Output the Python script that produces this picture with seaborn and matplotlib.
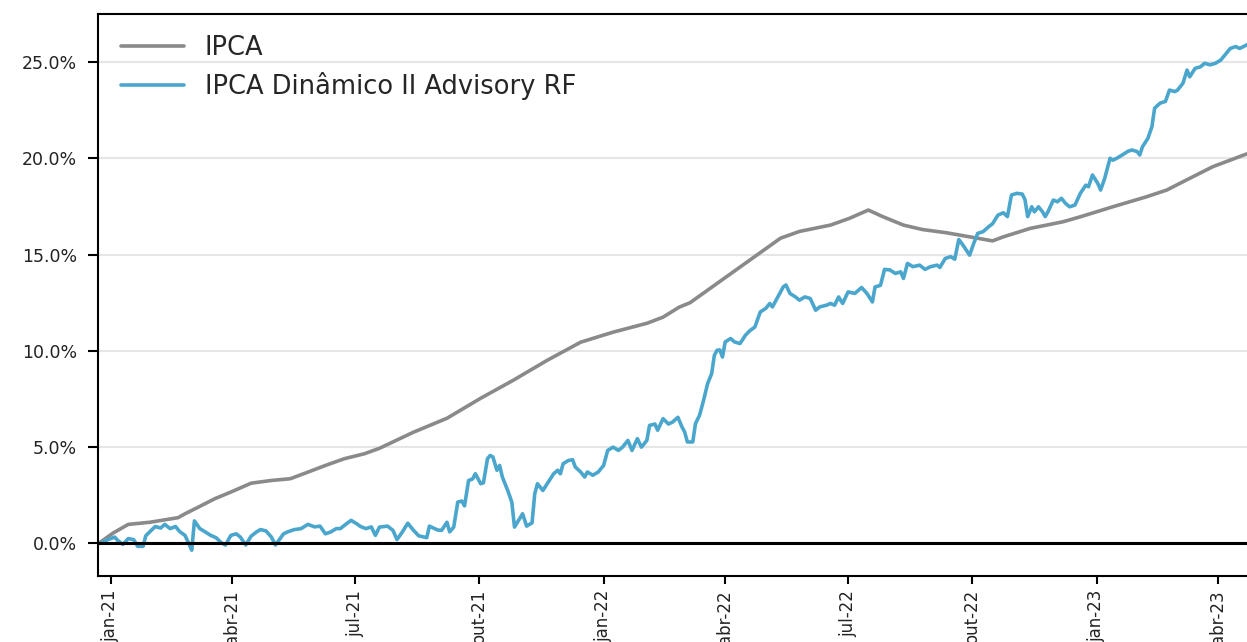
import matplotlib
matplotlib.use("Agg")
import matplotlib.pyplot as plt
import matplotlib.dates as mdates
from matplotlib.ticker import FuncFormatter
import seaborn as sns
import pandas as pd

# ---------------- data (days since 2021-01-01, cumulative return in %) ----------------
start_date = "2021-01-01"

ipca_days = [-8, 2, 13, 29, 50, 55, 65, 77, 89, 104, 119, 133, 144, 159, 173, 188, 199,
             224, 249, 274, 298, 323, 348, 372, 397, 409, 421, 429, 449, 473, 481, 496,
             510, 533, 547, 561, 572, 587, 601, 619, 636, 653, 661, 681, 705, 718, 742,
             767, 782, 794, 816, 841, 845]
ipca_values = [0.05, 0.55, 0.99, 1.10, 1.34, 1.54, 1.89, 2.32, 2.67, 3.13, 3.27, 3.36, 3.65,
               4.05, 4.40, 4.66, 4.94, 5.77, 6.50, 7.54, 8.47, 9.50, 10.45, 10.97, 11.43,
               11.75, 12.27, 12.50, 13.50, 14.70, 15.10, 15.85, 16.20, 16.53, 16.88, 17.31,
               16.96, 16.53, 16.30, 16.13, 15.92, 15.71, 15.92, 16.36, 16.70, 16.96, 17.48,
               18.00, 18.35, 18.78, 19.56, 20.22, 20.30]

fund_days = [-8, -2, 3, 5, 9, 13, 17, 20, 24, 26, 30, 33, 37, 40, 44, 48, 51, 55, 59, 60,
             62, 66, 70, 74, 78, 82, 85, 89, 93, 96, 100, 104, 108, 111, 115, 119, 122, 128,
             131, 136, 141, 146, 151, 155, 159, 163, 167, 170, 174, 178, 182, 185, 189, 193,
             196, 199, 205, 209, 212, 216, 220, 224, 228, 231, 234, 236, 242, 245, 249, 251,
             254, 257, 260, 262, 265, 268, 270, 274, 276, 279, 281, 283, 286, 288, 290, 294,
             297, 299, 302, 305, 308, 312, 314, 316, 320, 324, 328, 331, 333, 335, 339, 342,
             344, 348, 351, 353, 357, 361, 365, 368, 372, 376, 379, 383, 386, 390, 393, 397,
             399, 403, 405, 409, 413, 416, 420, 423, 425, 427, 431, 433, 436, 439, 442, 445,
             447, 449, 451, 453, 455, 459, 462, 466, 470, 473, 477, 481, 485, 488, 490, 494,
             498, 500, 503, 507, 510, 514, 518, 522, 525, 530, 533, 536, 539, 542, 546, 551,
             556, 560, 564, 566, 570, 573, 577, 581, 585, 587, 590, 594, 599, 603, 607, 612,
             614, 618, 622, 625, 628, 631, 636, 639, 642, 646, 650, 653, 657, 661, 664, 667,
             671, 675, 677, 679, 682, 684, 687, 690, 692, 694, 698, 701, 704, 707, 710, 714,
             718, 722, 724, 727, 731, 733, 736, 740, 742, 745, 749, 753, 756, 760, 762, 764,
             768, 771, 773, 777, 781, 784, 788, 790, 794, 797, 799, 803, 807, 810, 814, 818,
             822, 825, 829, 833, 836, 841, 845]
fund_values = [0.00, 0.20, 0.33, 0.17, -0.05, 0.25, 0.20, -0.15, -0.15, 0.40, 0.68, 0.88,
               0.80, 0.99, 0.77, 0.88, 0.62, 0.42, -0.18, -0.35, 1.17, 0.77, 0.60, 0.42,
               0.30, 0.03, -0.08, 0.42, 0.50, 0.33, -0.08, 0.38, 0.60, 0.72, 0.65, 0.33,
               -0.08, 0.50, 0.60, 0.72, 0.77, 0.99, 0.86, 0.90, 0.50, 0.60, 0.77, 0.77, 0.99,
               1.20, 1.03, 0.88, 0.77, 0.86, 0.42, 0.85, 0.90, 0.68, 0.20, 0.60, 1.05, 0.70,
               0.40, 0.35, 0.30, 0.90, 0.70, 0.68, 1.10, 0.60, 0.85, 2.15, 2.20, 1.95, 3.27,
               3.35, 3.62, 3.10, 3.15, 4.40, 4.57, 4.49, 3.80, 4.05, 3.45, 2.75, 2.15, 0.85,
               1.20, 1.54, 0.90, 1.07, 2.58, 3.10, 2.75, 3.19, 3.62, 3.80, 3.62, 4.14, 4.31,
               4.35, 3.97, 3.71, 3.45, 3.71, 3.54, 3.71, 4.05, 4.83, 5.00, 4.83, 5.00, 5.35,
               4.83, 5.44, 5.00, 5.35, 6.13, 6.20, 5.88, 6.48, 6.20, 6.30, 6.55, 6.05, 5.79,
               5.27, 5.27, 6.22, 6.65, 7.43, 8.30, 8.82, 9.77, 10.03, 10.05, 9.68, 10.46,
               10.64, 10.46, 10.38, 10.81, 11.03, 11.24, 12.02, 12.20, 12.46, 12.28, 12.80,
               13.32, 13.42, 12.98, 12.80, 12.63, 12.80, 12.72, 12.11, 12.28, 12.37, 12.46,
               12.37, 12.80, 12.46, 13.06, 12.98, 13.29, 12.98, 12.54, 13.32, 13.40, 14.23,
               14.20, 14.02, 14.10, 13.76, 14.54, 14.37, 14.45, 14.23, 14.37, 14.45, 14.33,
               14.80, 14.89, 14.76, 15.78, 15.50, 14.97, 15.57, 16.10, 16.19, 16.44, 16.60,
               17.05, 17.17, 16.97, 18.09, 18.18, 18.14, 17.85, 16.97, 17.48, 17.22, 17.48,
               17.22, 16.97, 17.22, 17.83, 17.74, 17.92, 17.66, 17.48, 17.57, 18.18, 18.60,
               18.52, 19.13, 18.68, 18.35, 18.95, 20.00, 19.90, 20.00, 20.17, 20.35, 20.43,
               20.35, 20.17, 20.60, 21.03, 21.64, 22.60, 22.86, 22.95, 23.54, 23.46, 23.54,
               23.90, 24.58, 24.23, 24.67, 24.75, 24.93, 24.85, 24.93, 25.10, 25.36, 25.70,
               25.80, 25.70, 25.88, 26.00]

series_names = ["IPCA", "IPCA Dinâmico II Advisory RF"]
y_ticks = [0, 5, 10, 15, 20, 25]
month_names_pt = {1: "jan", 4: "abr", 7: "jul", 10: "out"}

# ---------------- build frames ----------------
base = pd.Timestamp(start_date)
ipca_df = pd.DataFrame({"date": base + pd.to_timedelta(ipca_days, unit="D"),
                        "value": ipca_values})
fund_df = pd.DataFrame({"date": base + pd.to_timedelta(fund_days, unit="D"),
                        "value": fund_values})

# ---------------- figure ----------------
sns.set_theme(style="white")
plt.rcParams["font.family"] = ["DejaVu Sans"]

W, H = 1247, 642
fig = plt.figure(figsize=(W / 100, H / 100), dpi=100)
ax = fig.add_axes([98 / W, (H - 576) / H, 1 - 98 / W, (576 - 14) / H])

sns.lineplot(data=ipca_df, x="date", y="value", ax=ax, color="#8a8a8a",
             linewidth=2.6, label=series_names[0])
sns.lineplot(data=fund_df, x="date", y="value", ax=ax, color="#4aa6cc",
             linewidth=2.6, label=series_names[1])
ax.axhline(0, color="black", linewidth=2.2, zorder=3)

ax.set_xlim(base - pd.Timedelta(days=9.4), base + pd.Timedelta(days=841.4))
ax.set_ylim(-1.69, 27.49)

ax.set_yticks(y_ticks)
ax.yaxis.set_major_formatter(FuncFormatter(lambda v, _: f"{v:.1f}%"))
ax.xaxis.set_major_locator(mdates.MonthLocator(bymonth=list(month_names_pt.keys())))
ax.xaxis.set_major_formatter(FuncFormatter(
    lambda v, _: f"{month_names_pt[mdates.num2date(v).month]}-{mdates.num2date(v).year % 100:02d}"))

ax.grid(axis="y", color="#e6e6e6", linewidth=1.5)
ax.grid(axis="x", visible=False)
ax.set_axisbelow(True)

for side in ["left", "top", "bottom"]:
    ax.spines[side].set_color("black")
    ax.spines[side].set_linewidth(1.5)
ax.spines["right"].set_visible(False)

ax.tick_params(axis="y", left=True, length=7, width=1.5, pad=8, labelsize=12.5,
               colors="black", labelcolor="#222222")
ax.tick_params(axis="x", bottom=True, length=6, width=1.5, pad=4, labelsize=12,
               labelrotation=90, colors="black", labelcolor="#222222")
ax.set_xlabel("")
ax.set_ylabel("")

ax.legend(loc="upper left", bbox_to_anchor=(0.0, 1.004), frameon=False, fontsize=18.5,
          handlelength=2.45, handletextpad=0.8, labelspacing=0.45, borderaxespad=0.5)

fig.savefig("out.png", dpi=100)
